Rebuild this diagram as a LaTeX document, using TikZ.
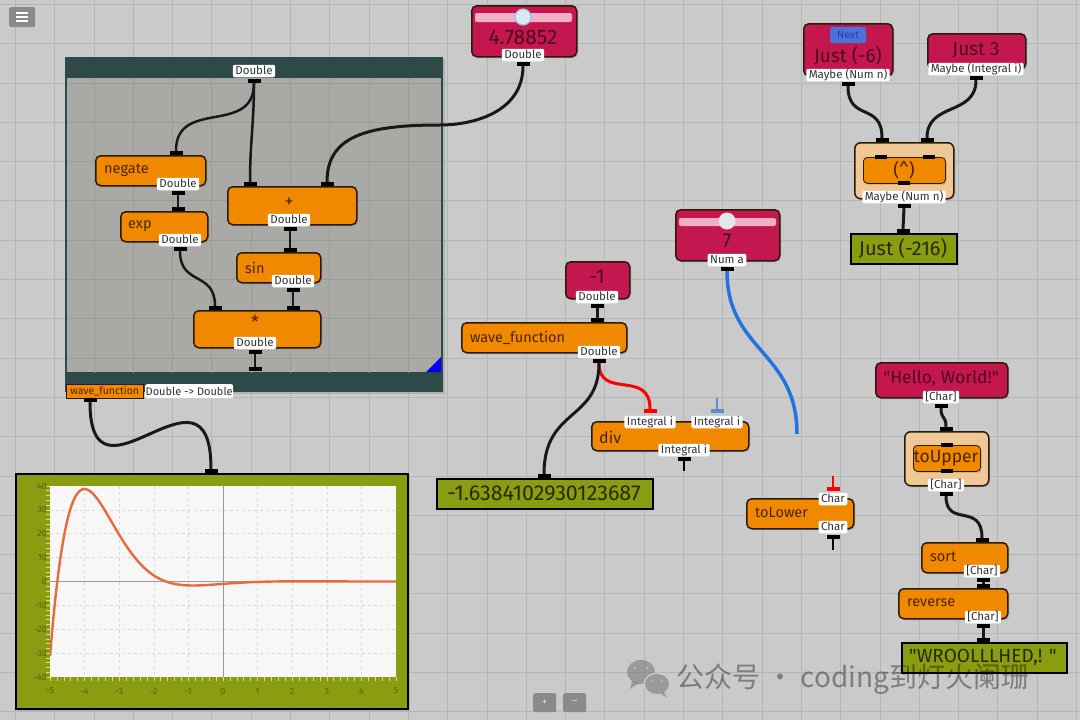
\documentclass[tikz,border=0pt]{standalone}
\usepackage{fontspec}
\setmainfont{Fira Sans}[Ligatures=TeXOff]
\newfontfamily\cjkfont{Noto Sans CJK SC}
\usetikzlibrary{shadows}
\definecolor{bg}{HTML}{CACACA}
\definecolor{gridc}{HTML}{B5B5B5}
\definecolor{orng}{HTML}{F08800}
\definecolor{orngtxt}{HTML}{4B2500}
\definecolor{crim}{HTML}{C4164F}
\definecolor{crimtxt}{HTML}{4E0A20}
\definecolor{olive}{HTML}{8A9C10}
\definecolor{olivetxt}{HTML}{262B00}
\definecolor{olivelbl}{HTML}{55620A}
\definecolor{tanc}{HTML}{F0C896}
\definecolor{nbord}{HTML}{2A1A08}
\definecolor{tealc}{HTML}{2E4A48}
\definecolor{fgray}{HTML}{A9AAA5}
\definecolor{fgrid}{HTML}{9A9B96}
\definecolor{lblt}{HTML}{333333}
\definecolor{wireblue}{HTML}{1F75E0}
\definecolor{steel}{HTML}{5B8EC8}
\definecolor{curvec}{HTML}{E8693C}
\definecolor{btn}{HTML}{8A8A8A}
\definecolor{nextb}{HTML}{4A72D8}
\definecolor{nextt}{HTML}{2A3FA0}
\definecolor{pinkbar}{HTML}{F0AFC4}
\definecolor{knobA}{HTML}{DCE8F4}
\definecolor{knobAb}{HTML}{9FC0E0}
\definecolor{knobB}{HTML}{E6E6E6}
\definecolor{tickc}{HTML}{DDE07A}
\begin{document}
\begin{tikzpicture}[x=1pt,y=-1pt,
  box/.style={anchor=north west, inner sep=0pt, rounded corners=5pt, draw=nbord, line width=1.5pt,
    drop shadow={shadow xshift=1.5pt,shadow yshift=-1.5pt,opacity=0.3}},
  onode/.style={box, fill=orng},
  cnode/.style={box, fill=crim},
  tnode/.style={box, fill=tanc, rounded corners=6pt},
  rnode/.style={box, fill=olive, rounded corners=0pt, draw=black},
  otext/.style={font=\fontsize{14.5}{16}\selectfont, text=orngtxt, inner sep=0pt},
  ctext/.style={font=\fontsize{19}{22}\selectfont, text=crimtxt, inner sep=0pt},
  rtext/.style={font=\fontsize{19}{22}\selectfont, text=olivetxt, inner sep=0pt},
  tlabel/.style={fill=white, rounded corners=2pt, inner xsep=2.5pt, inner ysep=1pt,
    font=\fontsize{11.5}{12}\selectfont, text=lblt, text height=8.3pt, text depth=2.2pt},
  port/.style={fill=black, inner sep=0pt, minimum width=13pt, minimum height=4pt},
  wire/.style={line width=3pt, draw=black!90},
  iwire/.style={line width=2.5pt, draw=black!90},
  stub/.style={line width=2pt},
  btnst/.style={fill=btn, rounded corners=2pt, inner sep=0pt},
]
\useasboundingbox (0,0) rectangle (1080,720);
\fill[bg] (0,0) rectangle (1080,720);
\foreach \i in {0,...,27} \draw[gridc, line width=1pt] ({15.4+\i*39.3},0) -- ++(0,720);
\foreach \j in {0,...,18} \draw[gridc, line width=1pt] (0,{4.4+\j*39.3}) -- ++(1080,0);

% menu button
\node[btnst, minimum width=26pt, minimum height=20pt, anchor=north west] (menu) at (9,7) {};
\foreach \yy in {12.5,16.5,20.5} \fill[white] (16,\yy-1) rectangle (28,\yy+1);

% ================= function box =================
\node[anchor=north west, fill=tealc, minimum width=378pt, minimum height=335pt, inner sep=0pt,
  drop shadow={shadow xshift=1.5pt,shadow yshift=-1.5pt,opacity=0.3}] (fbox) at (65,57) {};
\fill[fgray] (67,78) rectangle (441,372);
\begin{scope}
\clip (67,78) rectangle (441,372);
\foreach \i in {0,...,27} \draw[fgrid, line width=1pt] ({15.4+\i*39.3},0) -- ++(0,720);
\foreach \j in {0,...,18} \draw[fgrid, line width=1pt] (0,{4.4+\j*39.3}) -- ++(1080,0);
\end{scope}
\fill[blue] (441,357) -- (441,372) -- (426,372) -- cycle;
\node[tlabel] (ftop-l) at (254,71) {Double};
\node[port] (ftop-p) at (254,81) {};
\node[port] (fbot-p) at (255,369) {};
\node[anchor=north west, fill=orng, draw=nbord, line width=0.6pt, minimum width=77pt, minimum height=14pt,
  inner sep=0pt, font=\fontsize{10.5}{12}\selectfont, text=orngtxt] (fname) at (66,384) {wave\_function};
\node[anchor=north west, fill=white, rounded corners=2pt, minimum width=88pt, minimum height=14pt,
  inner sep=0pt, font=\fontsize{11}{12}\selectfont, text=lblt] (ftype) at (145,384) {Double -> Double};
\node[port] (fout-p) at (90,400) {};

% negate
\node[onode, minimum width=110pt, minimum height=30pt] (neg) at (95,155) {};
\node[otext, anchor=west] (neg-t) at (104,170) {negate};
\node[tlabel] (neg-l) at (178,184) {Double};
\node[port] (neg-in) at (176,153) {};
\node[port] (neg-o) at (178,193) {};
% exp
\node[onode, minimum width=87pt, minimum height=30pt] (exp) at (120,211) {};
\node[otext, anchor=west] (exp-t) at (128,226) {exp};
\node[tlabel] (exp-l) at (180,240) {Double};
\node[port] (exp-in) at (178,209) {};
\node[port] (exp-o) at (180,249) {};
% plus
\node[onode, minimum width=129pt, minimum height=38pt] (plus) at (227,186) {};
\node[otext, font=\fontsize{18}{20}\selectfont] (plus-t) at (289,203) {+};
\node[tlabel] (plus-l) at (289,220) {Double};
\node[port] (plus-in1) at (250,184) {};
\node[port] (plus-in2) at (327,184) {};
\node[port] (plus-o) at (290,229) {};
% sin
\node[onode, minimum width=84pt, minimum height=30pt] (sin) at (236,252) {};
\node[otext, anchor=west] (sin-t) at (245,268) {sin};
\node[tlabel] (sin-l) at (293,281) {Double};
\node[port] (sin-in) at (290,250) {};
\node[port] (sin-o) at (293,290) {};
% times
\node[onode, minimum width=127pt, minimum height=37pt] (tim) at (193,310) {};
\node[otext, font=\fontsize{18}{20}\selectfont] (tim-t) at (255,322) {*};
\node[tlabel] (tim-l) at (255,343) {Double};
\node[port] (tim-in1) at (215,308) {};
\node[port] (tim-in2) at (293,308) {};
\node[port] (tim-o) at (255,352) {};

% ================= slider A =================
\node[cnode, minimum width=105pt, minimum height=51pt] (sa) at (471,5) {};
\fill[pinkbar, rounded corners=2pt] (475,13) rectangle (572,22);
\node[circle, fill=knobA, draw=knobAb, line width=1.2pt, minimum size=16pt, inner sep=0pt] (sa-k) at (523,17) {};
\node[ctext, font=\fontsize{21}{24}\selectfont] (sa-t) at (523,37) {4.78852};
\node[tlabel] (sa-l) at (523,55) {Double};
\node[port] (sa-o) at (523,64) {};

% ================= slider B =================
\node[cnode, minimum width=104pt, minimum height=51pt] (sb) at (675,209) {};
\fill[pinkbar, rounded corners=2pt] (679,218) rectangle (776,226);
\node[circle, fill=knobB, minimum size=17pt, inner sep=0pt] (sb-k) at (727,221) {};
\node[ctext, font=\fontsize{20}{24}\selectfont] (sb-t) at (727,241) {7};
\node[tlabel] (sb-l) at (727,260) {Num a};
\node[port] (sb-o) at (727,269) {};
\coordinate (blue-end) at (797,434);

% ================= -1 =================
\node[cnode, minimum width=64pt, minimum height=37pt] (m1) at (565,261) {};
\node[ctext, font=\fontsize{20}{24}\selectfont] (m1-t) at (597,277) {-1};
\node[tlabel] (m1-l) at (597,297) {Double};
\node[port] (m1-o) at (597,306) {};

% wave_function node
\node[onode, minimum width=165pt, minimum height=30pt] (wf) at (461,322) {};
\node[otext, anchor=west] (wf-t) at (470,338) {wave\_function};
\node[tlabel] (wf-l) at (599,352) {Double};
\node[port] (wf-in) at (597,320) {};
\node[port] (wf-o) at (599,361) {};

% div
\node[onode, minimum width=157pt, minimum height=29pt] (div) at (591,421) {};
\node[otext, font=\fontsize{16}{18}\selectfont, anchor=west] (div-t) at (599,437) {div};
\node[port, fill=red] (div-in1) at (650,411) {};
\node[port, fill=steel] (div-in2) at (717,411) {};
\coordinate (div-in2-end) at (717,398);
\node[tlabel] (div-l1) at (650,422) {Integral i};
\node[tlabel] (div-l2) at (717,422) {Integral i};
\node[tlabel] (div-l3) at (684,450) {Integral i};
\node[port] (div-o) at (684,459) {};
\coordinate (div-o-end) at (684,471);

% result 1
\node[rnode, minimum width=216pt, minimum height=30pt] (res1) at (436,478) {};
\node[rtext, font=\fontsize{21.5}{24}\selectfont] (res1-t) at (544,493) {-1.6384102930123687};
\node[port] (res1-in) at (544,476) {};

% toLower
\node[onode, minimum width=107pt, minimum height=30pt] (tl) at (746,498) {};
\node[otext, anchor=west] (tl-t) at (755,513) {toLower};
\node[port, fill=red] (tl-in) at (833,489) {};
\coordinate (tl-in-end) at (833,476);
\node[tlabel] (tl-l1) at (833,499) {Char};
\node[tlabel] (tl-l2) at (833,527) {Char};
\node[port] (tl-o) at (833,537) {};
\coordinate (tl-o-end) at (833,550);

% Hello World
\node[cnode, minimum width=132pt, minimum height=35pt] (hw) at (875,362) {};
\node[ctext, font=\fontsize{17.5}{20}\selectfont] (hw-t) at (941,378) {"Hello, World!"};
\node[tlabel] (hw-l) at (941,397) {[Char]};
\node[port] (hw-o) at (941,406) {};

% toUpper composite
\node[tnode, minimum width=84pt, minimum height=54pt] (tu) at (904,431) {};
\node[onode, line width=0.8pt, rounded corners=4pt, minimum width=67pt, minimum height=26pt, drop shadow={opacity=0}] (tu-i) at (913,445) {};
\node[otext, font=\fontsize{17.5}{20}\selectfont] (tu-t) at (946,458) {toUpper};
\node[port] (tu-in) at (946,429) {};
\node[port, minimum width=12pt] (tu-ii) at (947,445) {};
\node[port, minimum width=12pt] (tu-io) at (947,471) {};
\node[tlabel] (tu-l) at (946,485) {[Char]};
\node[port] (tu-o) at (946,494) {};

% sort
\node[onode, minimum width=86pt, minimum height=30pt] (so) at (921,542) {};
\node[otext, anchor=west] (so-t) at (930,557) {sort};
\node[tlabel] (so-l) at (982,571) {[Char]};
\node[port] (so-in) at (982,540) {};
\node[port] (so-o) at (983,580) {};

% reverse
\node[onode, minimum width=109pt, minimum height=30pt] (rv) at (898,588) {};
\node[otext, anchor=west] (rv-t) at (907,603) {reverse};
\node[tlabel] (rv-l) at (983,617) {[Char]};
\node[port] (rv-in) at (983,586) {};
\node[port] (rv-o) at (983,626) {};

% result 2
\node[rnode, minimum width=165pt, minimum height=30pt] (res2) at (901,642) {};
\node[rtext, font=\fontsize{19}{22}\selectfont] (res2-t) at (983,657) {"WROOLLLHED,! "};
\node[port] (res2-in) at (983,640) {};

% Just (-6)
\node[cnode, minimum width=89pt, minimum height=52pt] (j6) at (803,23) {};
\node[fill=nextb, rounded corners=2pt, minimum width=36pt, minimum height=16pt, inner sep=0pt,
  font=\fontsize{10.5}{11}\selectfont, text=nextt] (next) at (848,35) {Next};
\node[ctext] (j6-t) at (848,56) {Just (-6)};
\node[tlabel] (j6-l) at (848,75) {Maybe (Num n)};
\node[port] (j6-o) at (848,84) {};

% Just 3
\node[cnode, minimum width=98pt, minimum height=35pt] (j3) at (927,33) {};
\node[ctext] (j3-t) at (976,50) {Just 3};
\node[tlabel] (j3-l) at (976,69) {Maybe (Integral i)};
\node[port] (j3-o) at (976,78) {};

% (^) composite
\node[tnode, minimum width=99pt, minimum height=56pt] (pw) at (854,142) {};
\node[onode, line width=0.8pt, rounded corners=4pt, minimum width=82pt, minimum height=26pt, drop shadow={opacity=0}] (pw-i) at (863,157) {};
\node[otext, font=\fontsize{18}{20}\selectfont] (pw-t) at (904,170) {(\textasciicircum)};
\node[port] (pw-in1) at (882,140) {};
\node[port] (pw-in2) at (927,140) {};
\node[port, minimum width=12pt] (pw-ii1) at (881,157) {};
\node[port, minimum width=12pt] (pw-ii2) at (929,157) {};
\node[port, minimum width=12pt] (pw-io) at (904,183) {};
\node[tlabel] (pw-l) at (904,197) {Maybe (Num n)};
\node[port] (pw-o) at (904,206) {};

% Just (-216)
\node[rnode, minimum width=106pt, minimum height=30pt] (j216) at (850,233) {};
\node[rtext, font=\fontsize{20}{22}\selectfont] (j216-t) at (903,248) {Just (-216)};
\node[port] (j216-in) at (903,231) {};

% ================= chart =================
\node[rnode, line width=2pt, minimum width=392pt, minimum height=235pt] (chart) at (15,473) {};
\node[port] (chart-in) at (211,471) {};
\fill[white!97!black] (50,486) rectangle (396,677);
\foreach \v in {-4,...,4} \draw[gray!30, dashed, line width=0.6pt] ({223+34.6*\v},486) -- ({223+34.6*\v},677);
\foreach \v in {-30,-20,-10,10,20,30} \draw[gray!30, dashed, line width=0.6pt] (50,{581.5-2.3875*\v}) -- (396,{581.5-2.3875*\v});
\draw[gray!80, line width=0.8pt] (223,486) -- (223,677);
\draw[gray!80, line width=0.8pt] (50,581.5) -- (396,581.5);
\foreach \v in {-40,-38,...,40} \draw[tickc, line width=0.6pt] (46,{581.5-2.3875*\v}) -- (50,{581.5-2.3875*\v});
\foreach \v in {0,...,50} \draw[tickc, line width=0.6pt] ({50+6.92*\v},677) -- ({50+6.92*\v},681);
\foreach \v in {-40,-30,...,40} \node[font=\fontsize{9}{10}\selectfont, text=olivelbl, anchor=east, inner sep=0pt] at (47,{581.5-2.3875*\v}) {\v};
\foreach \v in {-5,...,5} \node[font=\fontsize{9}{10}\selectfont, text=olivelbl, inner sep=0pt] at ({223+34.6*\v},691) {\v};
\begin{scope}
\clip (50,486) rectangle (396,677);
\draw[curvec, line width=2.4pt, line join=round] plot[domain=-5:5, samples=240, smooth]
  ({223+34.6*\x}, {581.5-2.3875*exp(-\x)*sin(deg(\x+4.78852))});
\end{scope}

% ================= wires =================
\draw[iwire] (ftop-p.south) .. controls +(0,53) and +(0,-53) .. (neg-in.north);
\draw[iwire] (ftop-p.south) .. controls +(0,40) and +(0,-40) .. (plus-in1.north);
\draw[iwire] (neg-o.south) -- (exp-in.north);
\draw[iwire] (exp-o.south) .. controls +(0,35) and +(0,-35) .. (tim-in1.north);
\draw[iwire] (plus-o.south) .. controls +(0,10) and +(0,-10) .. (sin-in.north);
\draw[iwire] (sin-o.south) -- (tim-in2.north);
\draw[iwire] (tim-o.south) -- (fbot-p.north);
\coordinate (wA) at (440,125);
\draw[wire] (sa-o.south) .. controls +(0,45) and +(35,0) .. (wA) .. controls +(-75,0) and +(0,-45) .. (plus-in2.north);
\draw[wire] (fout-p.south) .. controls +(0,118) and +(0,-123) .. (chart-in.north);
\draw[wire] (m1-o.south) -- (wf-in.north);
\draw[wire, draw=red] (wf-o.south) .. controls +(0,37) and +(0,-40) .. (div-in1.north);
\draw[wire] (wf-o.south) .. controls +(0,58) and +(0,-66) .. (res1-in.north);
\draw[line width=3.5pt, draw=wireblue] (sb-o.south) .. controls +(0,80) and +(0,-83) .. (blue-end);
\draw[wire] (j6-o.south) .. controls +(0,36) and +(0,-36) .. (pw-in1.north);
\draw[wire] (j3-o.south) .. controls +(0,36) and +(0,-36) .. (pw-in2.north);
\draw[wire] (pw-o.south) -- (j216-in.north);
\draw[wire] (hw-o.south) .. controls +(0,12) and +(0,-12) .. (tu-in.north);
\draw[wire] (tu-o.south) .. controls +(0,32) and +(0,-36) .. (so-in.north);
\draw[wire] (so-o.south) -- (rv-in.north);
\draw[wire] (rv-o.south) -- (res2-in.north);
% stubs
\draw[stub, steel] (div-in2.north) -- (div-in2-end);
\draw[stub] (div-o.south) -- (div-o-end);
\draw[stub, red] (tl-in.north) -- (tl-in-end);
\draw[stub] (tl-o.south) -- (tl-o-end);

% ================= bottom buttons =================
\node[btnst, minimum width=23pt, minimum height=19pt, anchor=north west, text=white!85!black,
  font=\fontsize{11}{12}\selectfont] (zin) at (533,693) {+};
\node[btnst, minimum width=23pt, minimum height=19pt, anchor=north west, text=white!85!black,
  font=\fontsize{11}{12}\selectfont] (zout) at (563,693) {\textendash};

% ================= watermark =================
\begin{scope}[opacity=0.55]
\fill[black!55] (641,672) circle [x radius=14pt, y radius=12pt];
\fill[black!55] (632,681) -- (630,689) -- (639,683) -- cycle;
\fill[bg] (635,668) circle (1.6pt) (647,668) circle (1.6pt);
\end{scope}
\fill[bg] (657,684) circle [x radius=13.5pt, y radius=11.5pt];
\begin{scope}[opacity=0.55]
\fill[black!55] (657,684) circle [x radius=12pt, y radius=10pt];
\fill[black!55] (664,692) -- (667,698) -- (660,693) -- cycle;
\fill[bg] (652,681) circle (1.4pt) (662,681) circle (1.4pt);
\end{scope}
\node[anchor=west, inner sep=0pt, text=black, text opacity=0.38, font=\cjkfont\fontsize{28}{32}\selectfont] (wm) at (676,679) {公众号 · coding到灯火阑珊};
\end{tikzpicture}
\end{document}
